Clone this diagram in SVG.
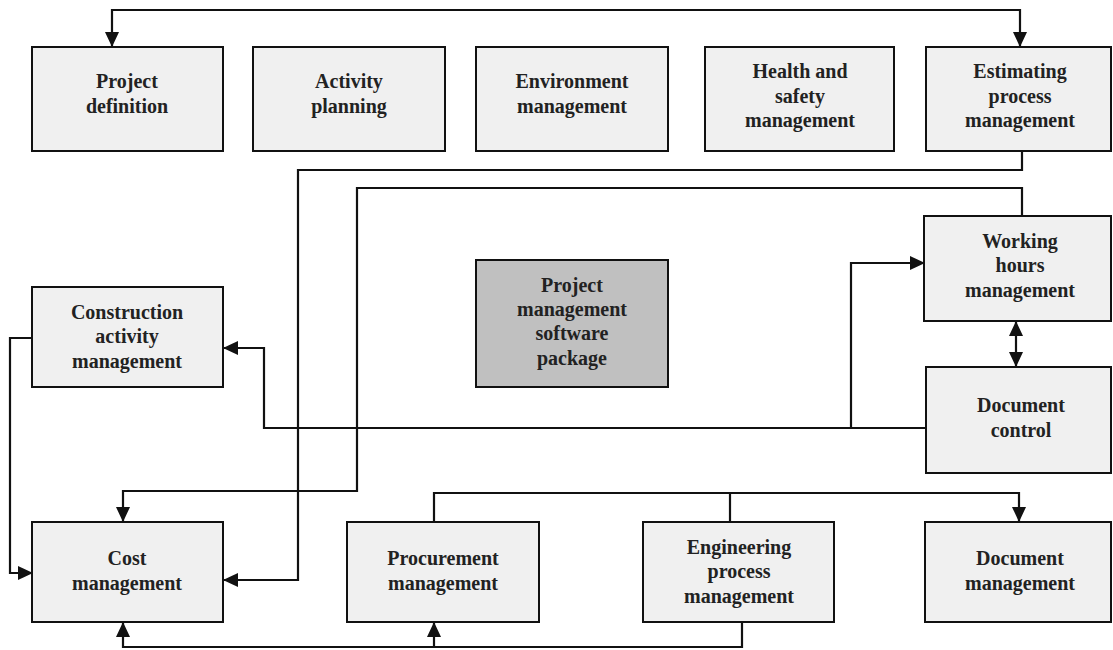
<svg xmlns="http://www.w3.org/2000/svg" width="1113" height="650" viewBox="0 0 1113 650">
<style>
.box{fill:#f0f0f0;stroke:#111;stroke-width:2}
.core{fill:#c0c0c0;stroke:#111;stroke-width:2}
.t{font-family:"Liberation Serif","Times New Roman","DejaVu Serif",serif;font-weight:bold;font-size:20px;fill:#222;text-anchor:middle}
.c{fill:none;stroke:#111;stroke-width:2.2}
</style>
<defs>
<marker id="ah" markerUnits="userSpaceOnUse" markerWidth="16" markerHeight="16" refX="15" refY="8" orient="auto-start-reverse">
<path d="M0,1 L15,8 L0,15 z" fill="#111"/>
</marker>
</defs>
<rect width="1113" height="650" fill="#fff"/>
<g id="connectors">
<path class="c" d="M112,47 V10 H1020 V47" marker-start="url(#ah)" marker-end="url(#ah)"/>
<path class="c" d="M1022,151 V170 H298 V580 H223" marker-end="url(#ah)"/>
<path class="c" d="M1022,216 V188 H357 V491 H123 V522" marker-end="url(#ah)"/>
<path class="c" d="M926,428 H264 V348 H223" marker-end="url(#ah)"/>
<path class="c" d="M851,428 V263 H925" marker-end="url(#ah)"/>
<path class="c" d="M33,338 H10 V573 H33" marker-end="url(#ah)"/>
<path class="c" d="M1016,321 V367" marker-start="url(#ah)" marker-end="url(#ah)"/>
<path class="c" d="M434,522 V493 H1019 V522" marker-end="url(#ah)"/>
<path class="c" d="M730,522 V493"/>
<path class="c" d="M742,622 V647 H123 V622" marker-end="url(#ah)"/>
<path class="c" d="M434,647 V622" marker-end="url(#ah)"/>
</g>
<g id="project-definition"><rect class="box" x="32" y="47" width="191" height="104"/><text class="t" x="127" y="88">Project</text><text class="t" x="127" y="113">definition</text></g>
<g id="activity-planning"><rect class="box" x="253" y="47" width="192" height="104"/><text class="t" x="349" y="88">Activity</text><text class="t" x="349" y="113">planning</text></g>
<g id="environment-management"><rect class="box" x="476" y="47" width="192" height="104"/><text class="t" x="572" y="88">Environment</text><text class="t" x="572" y="113">management</text></g>
<g id="health-safety"><rect class="box" x="705" y="47" width="189" height="104"/><text class="t" x="800" y="78">Health and</text><text class="t" x="800" y="103">safety</text><text class="t" x="800" y="127">management</text></g>
<g id="estimating"><rect class="box" x="926" y="47" width="185" height="104"/><text class="t" x="1020" y="78">Estimating</text><text class="t" x="1020" y="103">process</text><text class="t" x="1020" y="127">management</text></g>
<g id="working-hours"><rect class="box" x="924" y="216" width="187" height="105"/><text class="t" x="1020" y="248">Working</text><text class="t" x="1020" y="272">hours</text><text class="t" x="1020" y="297">management</text></g>
<g id="pm-software"><rect class="core" x="476" y="260" width="192" height="127"/><text class="t" x="572" y="292">Project</text><text class="t" x="572" y="316">management</text><text class="t" x="572" y="340">software</text><text class="t" x="572" y="365">package</text></g>
<g id="construction"><rect class="box" x="32" y="287" width="191" height="100"/><text class="t" x="127" y="319">Construction</text><text class="t" x="127" y="343">activity</text><text class="t" x="127" y="368">management</text></g>
<g id="document-control"><rect class="box" x="926" y="367" width="185" height="106"/><text class="t" x="1021" y="412">Document</text><text class="t" x="1021" y="437">control</text></g>
<g id="cost"><rect class="box" x="32" y="522" width="191" height="100"/><text class="t" x="127" y="565">Cost</text><text class="t" x="127" y="590">management</text></g>
<g id="procurement"><rect class="box" x="347" y="522" width="192" height="100"/><text class="t" x="443" y="565">Procurement</text><text class="t" x="443" y="590">management</text></g>
<g id="engineering"><rect class="box" x="643" y="522" width="191" height="100"/><text class="t" x="739" y="554">Engineering</text><text class="t" x="739" y="578">process</text><text class="t" x="739" y="603">management</text></g>
<g id="document-management"><rect class="box" x="925" y="522" width="186" height="100"/><text class="t" x="1020" y="565">Document</text><text class="t" x="1020" y="590">management</text></g>
</svg>
